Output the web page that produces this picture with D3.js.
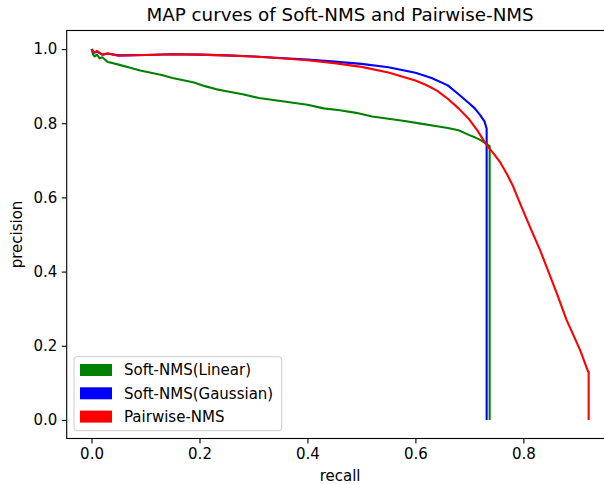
<!DOCTYPE html>
<html><head><meta charset="utf-8">
<script src="https://cdn.jsdelivr.net/npm/d3@7"></script>
<style>
html,body{margin:0;padding:0;background:#fff;}
text{font-family:"DejaVu Sans",sans-serif;fill:#000;}
</style></head>
<body><svg id="c" width="604" height="484"></svg>
<script>
const title = "MAP curves of Soft-NMS and Pairwise-NMS";
const xLabel = "recall";
const yLabel = "precision";
const xTicks = [0.0, 0.2, 0.4, 0.6, 0.8];
const yTicks = [0.0, 0.2, 0.4, 0.6, 0.8, 1.0];
const seriesNames = ["Soft-NMS(Linear)", "Soft-NMS(Gaussian)", "Pairwise-NMS"];
const seriesColors = ["green", "blue", "red"];

const linearRecall = [0, 0.003, 0.006, 0.01, 0.015, 0.02, 0.03, 0.04, 0.05, 0.07, 0.09, 0.11, 0.13, 0.15, 0.17, 0.19, 0.21, 0.23, 0.25, 0.28, 0.31, 0.34, 0.37, 0.40, 0.43, 0.46, 0.49, 0.52, 0.55, 0.58, 0.61, 0.64, 0.66, 0.68, 0.70, 0.71, 0.72, 0.73, 0.7376, 0.7376];
const linearPrecision = [1.0, 0.985, 0.98, 0.985, 0.975, 0.978, 0.965, 0.962, 0.958, 0.95, 0.942, 0.936, 0.93, 0.922, 0.916, 0.91, 0.9, 0.892, 0.886, 0.878, 0.868, 0.862, 0.856, 0.85, 0.84, 0.835, 0.828, 0.818, 0.812, 0.806, 0.799, 0.792, 0.787, 0.781, 0.768, 0.762, 0.755, 0.746, 0.738, 0.0];

const gaussRecall = [0, 0.005, 0.01, 0.02, 0.03, 0.05, 0.1, 0.15, 0.2, 0.25, 0.3, 0.35, 0.4, 0.45, 0.5, 0.55, 0.6, 0.63, 0.66, 0.68, 0.7, 0.71, 0.72, 0.728, 0.732, 0.732];
const gaussPrecision = [1.0, 0.99, 0.993, 0.985, 0.988, 0.983, 0.984, 0.986, 0.985, 0.983, 0.98, 0.976, 0.972, 0.966, 0.96, 0.951, 0.936, 0.922, 0.902, 0.878, 0.853, 0.84, 0.822, 0.805, 0.785, 0.0];

const pairRecall = [0, 0.005, 0.01, 0.02, 0.03, 0.05, 0.1, 0.15, 0.2, 0.25, 0.3, 0.35, 0.4, 0.45, 0.5, 0.55, 0.6, 0.62, 0.64, 0.66, 0.68, 0.70, 0.715, 0.732, 0.745, 0.757, 0.77, 0.781, 0.795, 0.812, 0.831, 0.862, 0.88, 0.905, 0.92, 0.921, 0.921];
const pairPrecision = [1.0, 0.99, 0.995, 0.985, 0.988, 0.982, 0.984, 0.986, 0.985, 0.983, 0.98, 0.975, 0.97, 0.962, 0.952, 0.937, 0.915, 0.903, 0.888, 0.866, 0.84, 0.81, 0.78, 0.741, 0.718, 0.695, 0.662, 0.63, 0.58, 0.521, 0.458, 0.341, 0.27, 0.189, 0.13, 0.13, 0.0];

const series = [
  {name: seriesNames[0], color: seriesColors[0], r: linearRecall, p: linearPrecision},
  {name: seriesNames[1], color: seriesColors[1], r: gaussRecall, p: gaussPrecision},
  {name: seriesNames[2], color: seriesColors[2], r: pairRecall, p: pairPrecision}
];

const svg = d3.select("#c");
const L = 66.7, R = 613.5, T = 30.5, B = 438.5;
const x = d3.scaleLinear().domain([-0.046, 0.967]).range([L, R]);
const y = d3.scaleLinear().domain([-0.05, 1.05]).range([B, T]);

svg.append("defs").append("clipPath").attr("id","clp")
  .append("rect").attr("x", L).attr("y", T).attr("width", R-L).attr("height", B-T);

const line = d3.line().x(d => x(d[0])).y(d => y(d[1]));
const g = svg.append("g").attr("clip-path","url(#clp)");
series.forEach(s => {
  const pts = s.r.map((v,i) => [v, s.p[i]]);
  g.append("path").attr("d", line(pts)).attr("fill","none")
    .attr("stroke", s.color).attr("stroke-width", 2.1)
    .attr("stroke-linejoin","round").attr("stroke-linecap","butt");
});

const fs = "15px";
const xAxis = d3.axisBottom(x).tickValues(xTicks).tickFormat(d3.format(".1f")).tickSize(4.9).tickPadding(4.5);
const yAxis = d3.axisLeft(y).tickValues(yTicks).tickFormat(d3.format(".1f")).tickSize(4.9).tickPadding(4.5);
const gx = svg.append("g").attr("transform", `translate(0,${B})`).call(xAxis);
const gy = svg.append("g").attr("transform", `translate(${L},0)`).call(yAxis);
[gx, gy].forEach(a => {
  a.select(".domain").remove();
  a.selectAll(".tick line").attr("stroke","#000").attr("stroke-width",1.1);
  a.selectAll(".tick text").attr("font-size",fs).attr("font-family","DejaVu Sans").attr("fill","#000");
});

svg.append("rect").attr("x", L).attr("y", T).attr("width", R-L).attr("height", B-T)
  .attr("fill","none").attr("stroke","#000").attr("stroke-width",1.1);

svg.append("text").attr("x", (L+R)/2).attr("y", 21).attr("text-anchor","middle")
  .attr("font-size","18.3px").text(title);
svg.append("text").attr("x", (L+R)/2).attr("y", 481).attr("text-anchor","middle")
  .attr("font-size",fs).text(xLabel);
svg.append("text").attr("transform", `translate(22,${(T+B)/2}) rotate(-90)`).attr("text-anchor","middle")
  .attr("font-size",fs).text(yLabel);

const lg = svg.append("g");
lg.append("rect").attr("x", 74).attr("y", 356.7).attr("width", 207.7).attr("height", 74)
  .attr("rx", 3).attr("fill","#fff").attr("fill-opacity",0.8).attr("stroke","#cccccc").attr("stroke-width",1);
series.forEach((s,i) => {
  const cy = 370 + i*23.3;
  lg.append("rect").attr("x", 80).attr("y", cy-6).attr("width", 32).attr("height", 12).attr("fill", s.color);
  lg.append("text").attr("x", 124).attr("y", cy+5.3).attr("font-size",fs).text(s.name);
});
</script></body></html>
